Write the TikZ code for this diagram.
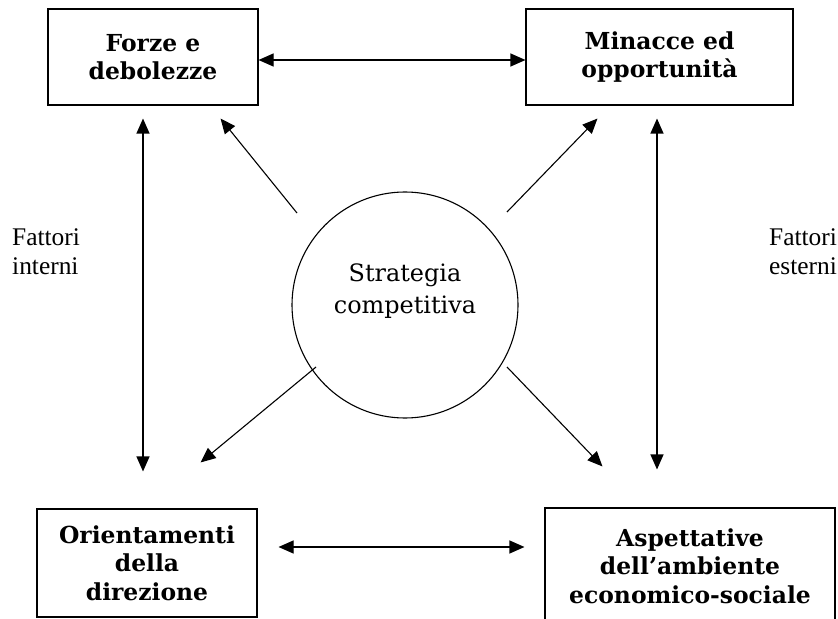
\documentclass[tikz,border=0pt]{standalone}
\usepackage{fontspec}
\setmainfont{Liberation Serif}
\newfontfamily\dejaserif{DejaVu Serif}
\usetikzlibrary{arrows.meta}
\tikzset{>={Triangle[length=15bp,width=13bp]}}
\tikzset{
  box/.style={draw, line width=1.1bp, align=center, inner sep=0pt,
    font=\dejaserif\bfseries\fontsize{23.5}{28.5}\selectfont},
  hub/.style={draw, circle, line width=1.1bp, minimum size=226bp, inner sep=0pt},
  side/.style={align=left, inner sep=0pt, font=\rmfamily\fontsize{25.5}{29}\selectfont},
  link/.style={line width=1.1bp},
}

\begin{document}
\begin{tikzpicture}[x=1bp,y=-1bp]
  \useasboundingbox (0,0) rectangle (838,619);

  % Nodes
  \node[box, minimum width=210bp, minimum height=96bp]  (forze)   at (153,57)    {Forze e\\debolezze};
  \node[box, minimum width=267bp, minimum height=96bp]  (minacce) at (659.5,57)  {Minacce ed\\opportunità};
  \node[box, minimum width=220bp, minimum height=108bp] (orient)  at (147,563)   {Orientamenti\\della\\direzione};
  \node[box, minimum width=290bp, minimum height=116bp] (aspett)  at (690,566)   {Aspettative\\dell’ambiente\\economico-sociale};
  \node[hub, label={[font=\dejaserif\fontsize{24}{32}\selectfont, align=center, yshift=14bp]center:Strategia\\competitiva}] (strat) at (405,305) {};
  \node[side, anchor=west] (interni) at (12,252)  {Fattori\\interni};
  \node[side, anchor=west] (esterni) at (769,252) {Fattori\\esterni};

  % Edges
  \draw[link, <->] ([shift={(0,3)}]forze.east) -- ([shift={(0,3)}]forze.east -| minacce.west);
  \draw[link, <->, shorten <=21bp, shorten >=20bp] ([shift={(0,-16)}]orient.east) -- ([shift={(0,-16)}]orient.east -| aspett.west);
  \draw[link, <->, shorten <=13bp, shorten >=37bp] ([shift={(-10,0)}]forze.south) -- ([shift={(-10,0)}]forze.south |- orient.north);
  \draw[link, <->, shorten <=13bp, shorten >=38bp] ([shift={(-2.5,0)}]minacce.south) -- ([shift={(-2.5,0)}]minacce.south |- aspett.north);
  \draw[link, ->] ([shift={(-108,-92)}]strat.center) -- ([shift={(-38,13)}]forze.south east);
  \draw[link, ->] ([shift={(102,-93)}]strat.center) -- ([shift={(72,13)}]minacce.south west);
  \draw[link, ->] ([shift={(-89,62)}]strat.center) -- ([shift={(-57,-46)}]orient.north east);
  \draw[link, ->] ([shift={(102,62)}]strat.center) -- ([shift={(58,-41)}]aspett.north west);

\end{tikzpicture}
\end{document}
